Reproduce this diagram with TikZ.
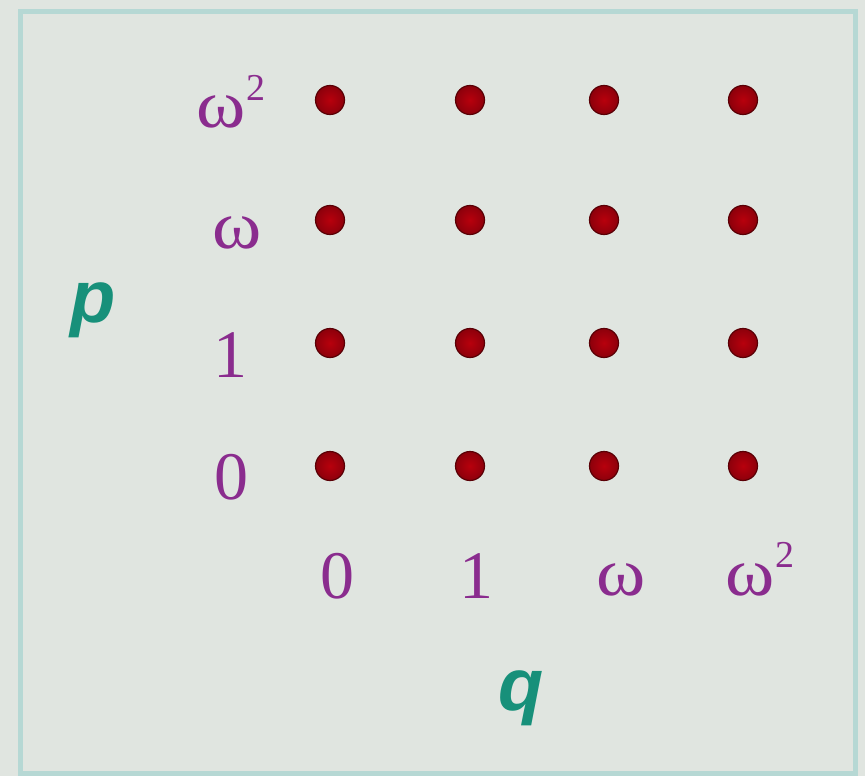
\documentclass[tikz,border=0pt]{standalone}
\usepackage{fontspec}
\setmainfont{Liberation Serif}
\newfontfamily\labsans{Liberation Sans}
\definecolor{bgc}{HTML}{E0E5E0}
\definecolor{framec}{HTML}{B6D8D4}
\definecolor{dotc}{HTML}{B0000E}
\definecolor{dotrim}{HTML}{5A0006}
\definecolor{purp}{HTML}{8A2C8E}
\definecolor{tealc}{HTML}{17907A}
\tikzset{
  gdot/.style={circle,inner color=dotc!90!red,outer color=dotc!80!black,draw=dotrim,line width=1.2pt,minimum size=29pt,inner sep=0pt},
  val/.style={text=purp,font=\fontsize{68}{72}\selectfont,anchor=base,inner sep=0pt},
  axis/.style={text=tealc,font=\labsans\bfseries\itshape\fontsize{74}{80}\selectfont,anchor=base,inner sep=0pt}
}
\begin{document}
\begin{tikzpicture}[x=1pt,y=-1pt]
\fill[bgc] (0,0) rectangle (865,776);
\useasboundingbox (0,0) rectangle (865,776);
\draw[framec,line width=5pt] (20,12) rectangle (855,773);
% dots
\foreach \c/\x in {1/330,2/470,3/604,4/743}{
  \foreach \r/\y in {1/100,2/220,3/343,4/466}{
    \node[gdot] (d\r\c) at (\x,\y) {};
  }
}
% row labels
\node[val] (lw2) at (231,128) {\scalebox{1.1}[1]{ω}\raisebox{0.4em}{\fontsize{38}{42}\selectfont 2}};
\node[val] (lw) at (237,248) {\scalebox{1.1}[1]{ω}};
\node[val] (l1) at (230,377) {1};
\node[val] (l0) at (231,499) {0};
% column labels
\node[val] (c0) at (337,598) {0};
\node[val] (c1) at (476,598) {1};
\node[val] (cw) at (621,595) {\scalebox{1.1}[1]{ω}};
\node[val] (cw2) at (760,595) {\scalebox{1.1}[1]{ω}\raisebox{0.4em}{\fontsize{38}{42}\selectfont 2}};
% axis labels
\node[axis] (p) at (93,322) {p};
\node[axis] (q) at (521,710) {q};
\end{tikzpicture}
\end{document}
